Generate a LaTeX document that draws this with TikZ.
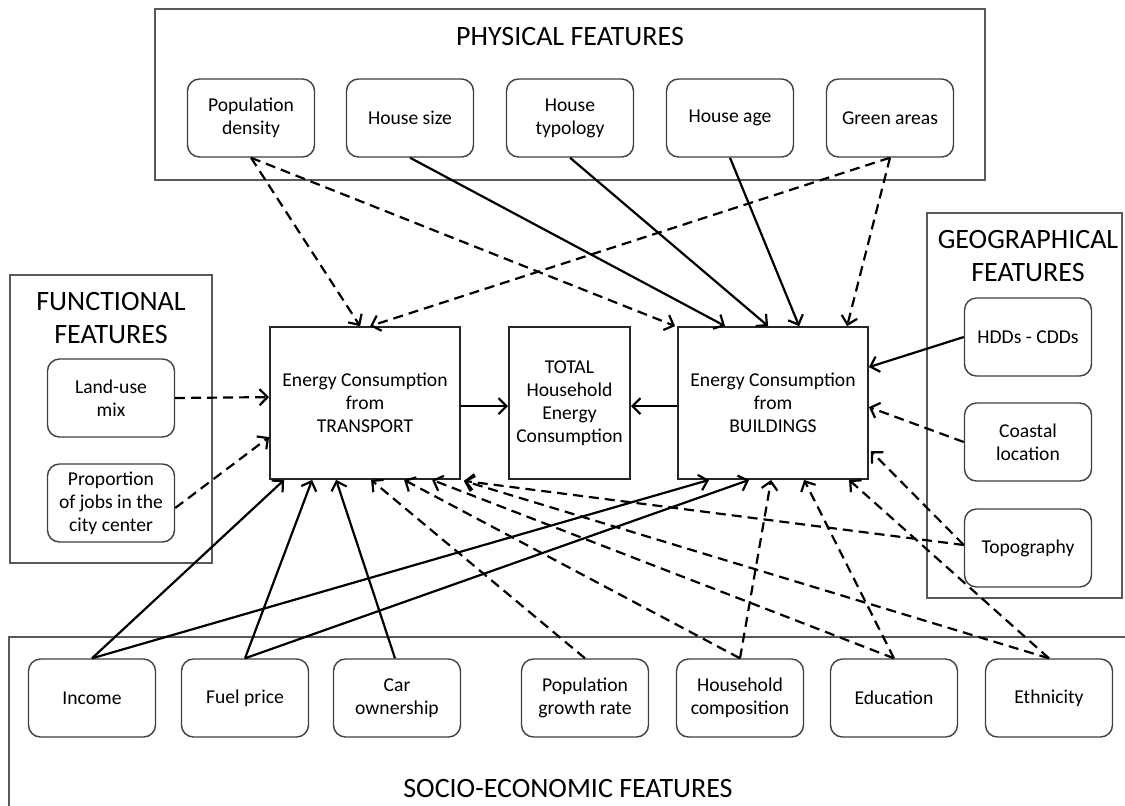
\documentclass[tikz,border=0pt]{standalone}
\usepackage{fontspec}
\setmainfont{Carlito}
\usetikzlibrary{arrows.meta,calc}
\begin{document}
\begin{tikzpicture}[x=0.5pt,y=-0.5pt,
  outer/.style={draw=black!65, line width=0.9pt},
  feat/.style={draw=black!75, line width=0.7pt, rounded corners=6pt, minimum width=63.5pt, minimum height=39pt, align=center, inner sep=1pt, font={\fontsize{9.8}{11.5}\selectfont}, text=black},
  energy/.style={draw=black!85, line width=0.9pt, minimum height=76pt, align=center, inner sep=0pt, font={\fontsize{9.8}{11.5}\selectfont}, text=black},
  ttl/.style={font={\fontsize{14}{16.5}\selectfont}, align=center, inner sep=0pt, text=black},
  sarr/.style={line width=1.1pt, -{Straight Barb[length=4pt,width=8pt]}},
  darr/.style={sarr, dash pattern=on 5pt off 3pt},
]
\useasboundingbox (0,0) rectangle (1125,805);
\clip (0,0) rectangle (1125,805);
\fill[white] (0,0) rectangle (1125,805);

% outer group boxes
\draw[outer] (155,9) rectangle (985,180);
\draw[outer] (10,275) rectangle (212,563);
\draw[outer] (927,213) rectangle (1122,598);
\draw[outer] (9,637) rectangle (1135,820);

% titles
\node[ttl] (tphys) at (570,37) {PHYSICAL FEATURES};
\node[ttl] (tfunc) at (111,318) {FUNCTIONAL\\FEATURES};
\node[ttl] (tgeo) at (1028,256) {GEOGRAPHICAL\\FEATURES};
\node[ttl] (tsoc) at (568,789) {SOCIO-ECONOMIC FEATURES};

% physical features
\node[feat] (popd) at (251,118) {Population\\density};
\node[feat] (hsize) at (410,118) {House size};
\node[feat] (htyp) at (570,118) {House\\typology};
\node[feat] (hage) at (730,118) {House age};
\node[feat] (green) at (890,118) {Green areas};

% functional features
\node[feat] (land) at (111,398) {Land-use\\mix};
\node[feat] (prop) at (111,503) {Proportion\\of jobs in the\\city center};

% geographical features
\node[feat] (hdd) at (1028,337) {HDDs - CDDs};
\node[feat] (coast) at (1028,442) {Coastal\\location};
\node[feat] (topo) at (1028,548) {Topography};

% socio-economic features
\node[feat] (inc) at (92,698) {Income};
\node[feat] (fuel) at (245,698) {Fuel price};
\node[feat] (car) at (397,698) {Car\\ownership};
\node[feat] (pgr) at (585,698) {Population\\growth rate};
\node[feat] (hh) at (740,698) {Household\\composition};
\node[feat] (edu) at (894,698) {Education};
\node[feat] (eth) at (1049,698) {Ethnicity};

% energy boxes
\node[energy, minimum width=95pt] (tr) at (365,403) {Energy Consumption\\from\\TRANSPORT};
\node[energy, minimum width=60.5pt] (tot) at (569.5,403) {TOTAL\\Household\\Energy\\Consumption};
\node[energy, minimum width=95pt] (bd) at (773,403) {Energy Consumption\\from\\BUILDINGS};

% central arrows
\draw[sarr] ($(tr.north east)+(0,80)$) -- ($(tot.north west)+(0,80)$);
\draw[sarr] ($(bd.north west)+(0,80)$) -- ($(tot.north east)+(0,80)$);

% physical connectors
\draw[darr] (popd.south) -- ($(tr.north west)+(91,0)$);
\draw[darr] (popd.south) -- ($(bd.north west)+(-2,0)$);
\draw[sarr] (hsize.south) -- ($(bd.north west)+(48,0)$);
\draw[sarr] (htyp.south) -- ($(bd.north west)+(91,0)$);
\draw[sarr] (hage.south) -- ($(bd.north west)+(122,0)$);
\draw[darr] (green.south) -- ($(bd.north west)+(170,0)$);
\draw[darr] (green.south) -- ($(tr.north west)+(101,0)$);

% functional connectors
\draw[darr] (land.east) -- ($(tr.north west)+(0,71)$);
\draw[darr] ($(prop.east)+(0,5)$) -- ($(tr.north west)+(0,111)$);

% geographical connectors
\draw[sarr] (hdd.west) -- ($(bd.north east)+(0,41)$);
\draw[darr] (coast.west) -- ($(bd.north east)+(0,81)$);
\draw[darr] ($(topo.west)+(0,-3)$) -- ($(bd.north east)+(2,125)$);
\draw[darr] ($(topo.west)+(0,-3)$) -- ($(tr.south east)+(3,1)$);

% socio-economic connectors
\draw[sarr] (inc.north) -- ($(tr.south west)+(15,0)$);
\draw[sarr] (inc.north) -- ($(bd.south west)+(32,0)$);
\draw[sarr] (fuel.north) -- ($(tr.south west)+(43,0)$);
\draw[sarr] (fuel.north) -- ($(bd.south west)+(72,0)$);
\draw[sarr] ($(car.north)+(-2,0)$) -- ($(tr.south west)+(67,0)$);
\draw[darr] (pgr.north) -- ($(tr.south west)+(102,0)$);
\draw[darr] (hh.north) -- ($(tr.south west)+(135,0)$);
\draw[darr] (hh.north) -- ($(bd.south west)+(94,0)$);
\draw[darr] (edu.north) -- ($(tr.south west)+(163,0)$);
\draw[darr] (edu.north) -- ($(bd.south west)+(127,0)$);
\draw[darr] (eth.north) -- ($(tr.south east)+(3,1)$);
\draw[darr] (eth.north) -- ($(bd.south west)+(172,0)$);
\end{tikzpicture}
\end{document}
